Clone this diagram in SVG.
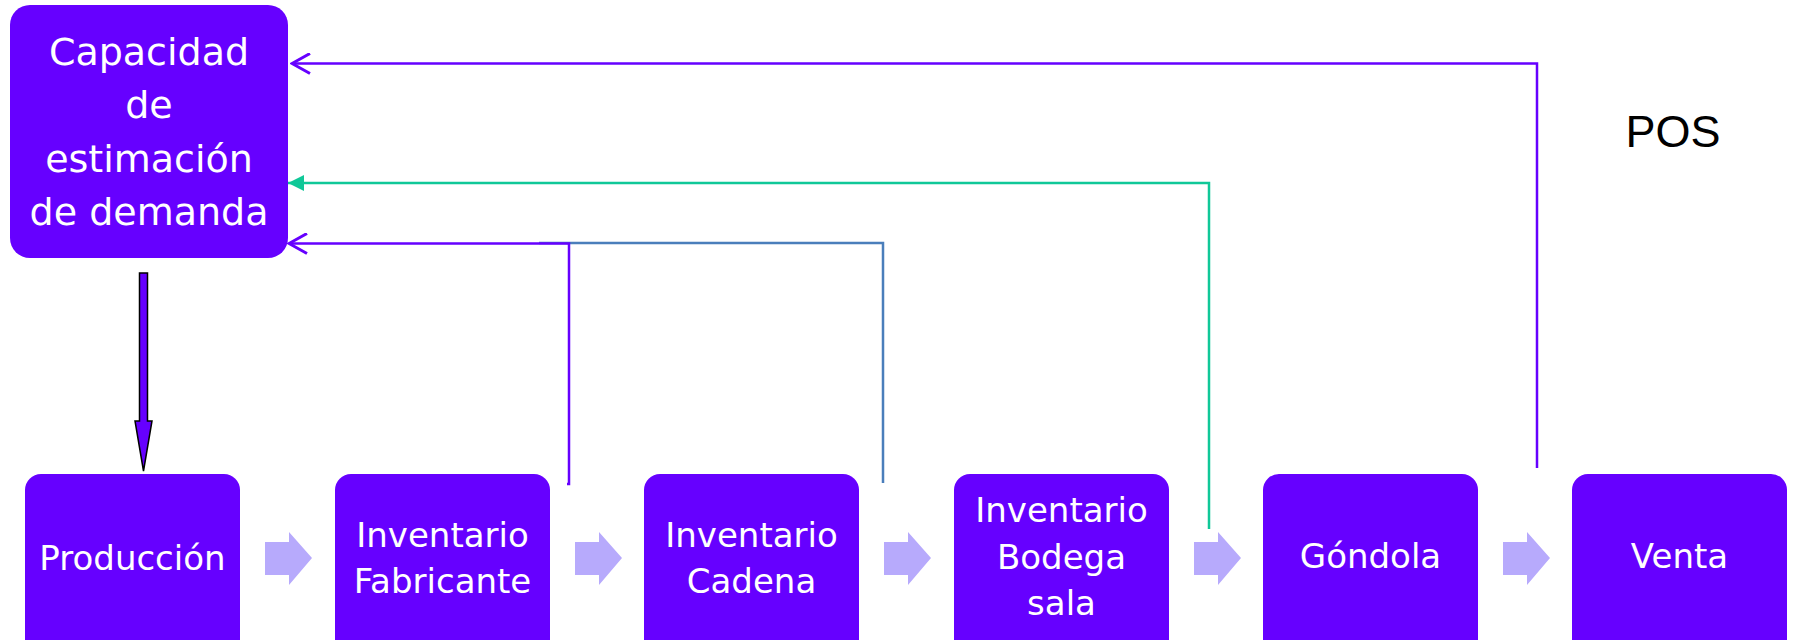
<svg xmlns="http://www.w3.org/2000/svg" width="1794" height="640" viewBox="0 0 1794 640">
<style>
.node{fill:#6600FF;}
.t{fill:#FFFFFF;font-family:"DejaVu Sans",sans-serif;text-anchor:middle;}
.tb{font-size:34px;}
.tt{font-size:38px;}
.chev{fill:#B7AAFC;}
.c{fill:none;stroke-width:2.5;}
.p{stroke:#6600FF;}
.g{stroke:#10C898;}
.b{stroke:#4A7EBB;}
</style>
<defs>
<marker id="openP" markerUnits="userSpaceOnUse" markerWidth="24" markerHeight="22" refX="22" refY="11" orient="auto" viewBox="0 0 24 22">
<path d="M4,1 L22,11 L4,21" fill="none" stroke="#6600FF" stroke-width="3"/>
</marker>
<marker id="fillG" markerUnits="userSpaceOnUse" markerWidth="18" markerHeight="16" refX="16" refY="8" orient="auto" viewBox="0 0 18 16">
<path d="M16,8 L0,0 L0,16 Z" fill="#10C898"/>
</marker>
</defs>
<rect width="1794" height="640" fill="#FFFFFF"/>
<g id="capacidad">
<rect class="node" x="10" y="5" width="278" height="253" rx="20"/>
<text class="t tt" x="149" y="65">Capacidad</text>
<text class="t tt" x="149" y="118">de</text>
<text class="t tt" x="149" y="172">estimación</text>
<text class="t tt" x="149" y="225">de demanda</text>
</g>
<g id="connectors">
<polyline class="c b" points="539,243 883,243 883,483"/>
<polyline class="c p" points="1537,468 1537,63.5 292,63.5" marker-end="url(#openP)"/>
<polyline class="c g" points="1209,529 1209,183 288,183" marker-end="url(#fillG)"/>
<polyline class="c p" points="567,484 569,484 569,243.5 289,243.5" marker-end="url(#openP)"/>
<g id="down-arrow">
<path d="M139.5,273 L147.5,273 L147.5,421 L152,421 L143.5,471 L135,421 L139.5,421 Z" fill="#6600FF" stroke="#000000" stroke-width="1.5"/>
</g>
<g id="chevrons">
<path class="chev" d="M265,542 L289,542 L289,532 L312,558 L289,585 L289,575 L265,575 Z"/>
<path class="chev" d="M575,542 L599,542 L599,532 L622,558 L599,585 L599,575 L575,575 Z"/>
<path class="chev" d="M884,542 L908,542 L908,532 L931,558 L908,585 L908,575 L884,575 Z"/>
<path class="chev" d="M1194,542 L1218,542 L1218,532 L1241,558 L1218,585 L1218,575 L1194,575 Z"/>
<path class="chev" d="M1503,542 L1527,542 L1527,532 L1550,558 L1527,585 L1527,575 L1503,575 Z"/>
</g>
</g>
<g id="produccion">
<rect class="node" x="25" y="474" width="215" height="190" rx="16"/>
<text class="t tb" x="132.5" y="570">Producción</text>
</g>
<g id="inv-fabricante">
<rect class="node" x="335" y="474" width="215" height="190" rx="16"/>
<text class="t tb" x="442.5" y="547">Inventario</text>
<text class="t tb" x="442.5" y="593">Fabricante</text>
</g>
<g id="inv-cadena">
<rect class="node" x="644" y="474" width="215" height="190" rx="16"/>
<text class="t tb" x="751.5" y="547">Inventario</text>
<text class="t tb" x="751.5" y="593">Cadena</text>
</g>
<g id="inv-bodega">
<rect class="node" x="954" y="474" width="215" height="190" rx="16"/>
<text class="t tb" x="1061.5" y="522">Inventario</text>
<text class="t tb" x="1061.5" y="569">Bodega</text>
<text class="t tb" x="1061.5" y="615">sala</text>
</g>
<g id="gondola">
<rect class="node" x="1263" y="474" width="215" height="190" rx="16"/>
<text class="t tb" x="1370.5" y="568">Góndola</text>
</g>
<g id="venta">
<rect class="node" x="1572" y="474" width="215" height="190" rx="16"/>
<text class="t tb" x="1679.5" y="568">Venta</text>
</g>
<text x="1673" y="147" font-family="Liberation Sans, Arial, sans-serif" font-size="45" text-anchor="middle" fill="#000000">POS</text>
</svg>
